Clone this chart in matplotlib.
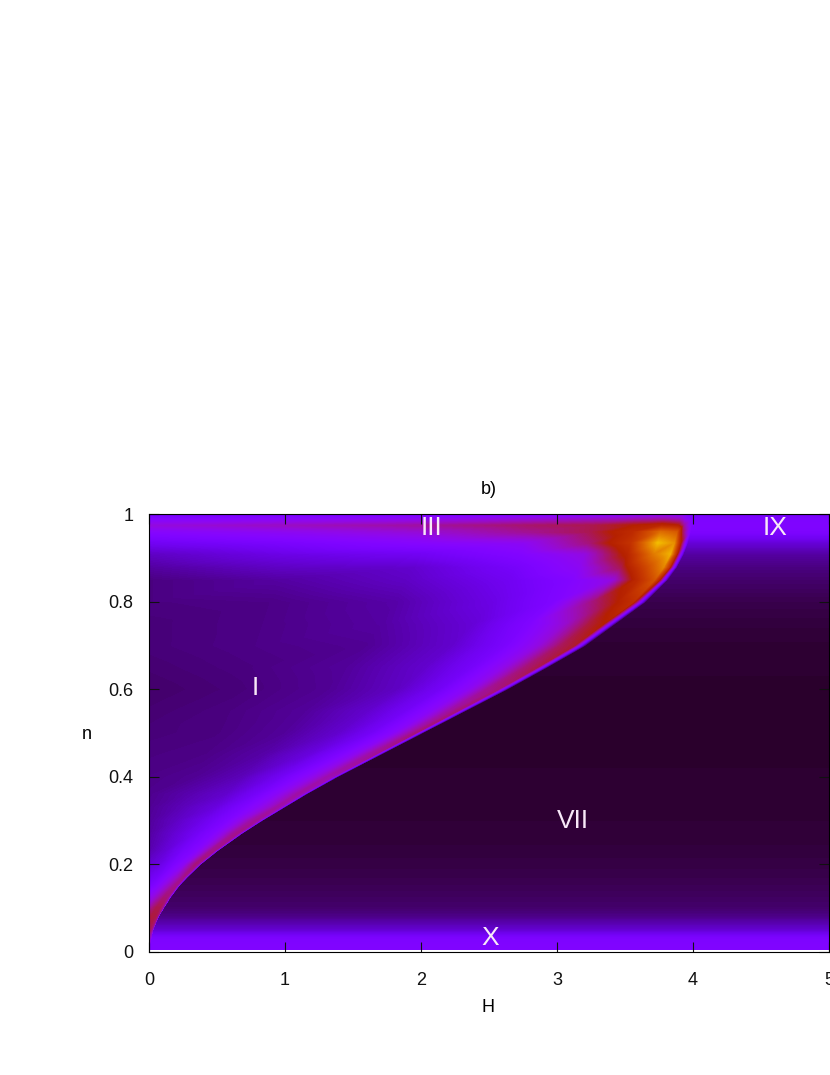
import numpy as np
import matplotlib
matplotlib.use("Agg")
import matplotlib.pyplot as plt
import matplotlib.tri as mtri

plt.rcParams['font.family'] = ['Liberation Sans', 'DejaVu Sans']

# values, row by row in n
n_rows = [0.004, 0.015, 0.03, 0.05, 0.08, 0.10, 0.125, 0.15, 0.17, 0.20, 0.23, 0.27, 0.30,
          0.33, 0.36, 0.40, 0.45, 0.50, 0.55, 0.60, 0.65, 0.70, 0.75, 0.80, 0.85, 0.88,
          0.91, 0.935, 0.96, 0.975, 0.99, 1.0]
# H where the dark region starts
edge_H = [0.002, 0.005, 0.015, 0.03, 0.07, 0.11, 0.16, 0.22, 0.28, 0.38, 0.50, 0.68, 0.83,
          0.99, 1.15, 1.38, 1.69, 2.00, 2.31, 2.62, 2.91, 3.19, 3.41, 3.63, 3.79, 3.86,
          3.91, 3.94, 3.96, 3.97, 3.98, 3.985]
# columns are fractions of edge_H
fractions = [0, 0.25, 0.5, 0.7, 0.82, 0.9, 0.95, 0.98, 0.99, 1.005]
left_vals = [
    [.25, .25, .25, .25, .25, .25, .25, .25, .25],
    [.28, .28, .28, .28, .28, .28, .27, .27, .26],
    [.34, .34, .33, .33, .32, .31, .29, .27, .24],
    [.44, .44, .42, .40, .37, .33, .28, .23, .18],
    [.46, .46, .46, .45, .43, .40, .32, .22, .12],
    [.38, .42, .45, .45, .42, .40, .32, .22, .11],
    [.30, .33, .38, .42, .42, .40, .33, .24, .12],
    [.22, .26, .32, .37, .40, .41, .35, .26, .15],
    [.19, .22, .28, .34, .38, .41, .37, .28, .16],
    [.15, .18, .24, .30, .38, .42, .40, .32, .20],
    [.12, .16, .22, .27, .34, .40, .41, .34, .23],
    [.11, .15, .20, .26, .33, .39, .41, .36, .25],
    [.105, .14, .19, .25, .32, .38, .40, .36, .25],
    [.10, .13, .17, .24, .30, .35, .39, .36, .26],
    [.095, .12, .15, .22, .29, .35, .39, .36, .26],
    [.09, .10, .13, .20, .27, .33, .38, .37, .26],
    [.085, .09, .115, .17, .24, .31, .38, .40, .27],
    [.08, .085, .105, .15, .21, .28, .37, .42, .28],
    [.075, .085, .105, .15, .21, .29, .38, .42, .28],
    [.07, .08, .10, .14, .21, .30, .40, .42, .28],
    [.075, .085, .105, .15, .22, .32, .42, .45, .30],
    [.08, .09, .10, .15, .23, .33, .44, .47, .30],
    [.08, .09, .11, .16, .25, .35, .46, .50, .33],
    [.085, .09, .115, .18, .25, .42, .50, .56, .38],
    [.085, .11, .14, .20, .26, .33, .55, .68, .50],
    [.11, .14, .15, .22, .30, .45, .66, .80, .60],
    [.14, .18, .20, .26, .33, .52, .78, .88, .60],
    [.20, .23, .27, .30, .42, .58, .90, .82, .55],
    [.27, .30, .34, .40, .45, .55, .75, .70, .45],
    [.33, .36, .39, .43, .45, .50, .53, .50, .40],
    [.26, .28, .30, .33, .35, .37, .38, .36, .30],
    [.20, .21, .22, .24, .26, .28, .29, .28, .26],
]
# the region right of the edge only changes with n
right_vals = [.25, .25, .24, .15, .09, .07, .062, .055, .05, .045, .04, .037, .035,
              .034, .033, .032, .03, .03, .03, .03, .032, .034, .04, .05, .07, .085,
              .11, .16, .24, .25, .24, .20]

H_ticks = [0, 1, 2, 3, 4, 5]
n_ticks = [0, 0.2, 0.4, 0.6, 0.8, 1]
n_tick_labels = ["0", "0.2", "0.4", "0.6", "0.8", "1"]
region_names = ["I", "III", "IX", "VII", "X"]
region_H = [0.78, 2.08, 4.6, 3.12, 2.51]
region_n = [0.602, 0.970, 0.970, 0.298, 0.030]

rows = np.array(n_rows)
cols = len(fractions) + 1
X = np.column_stack([np.outer(edge_H, fractions), np.full(len(rows), 5.0)])
Y = np.repeat(rows[:, None], cols, axis=1)
Z = np.column_stack([np.array(left_vals), right_vals, right_vals])

triangles = []
for i in range(len(rows) - 1):
    for j in range(cols - 1):
        a = i * cols + j
        b = a + 1
        c = a + cols
        d = c + 1
        triangles.append([a, b, d])
        triangles.append([a, d, c])
tri = mtri.Triangulation(X.ravel(), Y.ravel(), triangles)

fig = plt.figure(figsize=(8.3, 10.75), dpi=100)
ax = fig.add_axes([149 / 830, 1 - 951.5 / 1075, 680 / 830, 437 / 1075])
ax.tricontourf(tri, Z.ravel(), levels=np.linspace(0, 1, 257), cmap='gnuplot',
               vmin=0, vmax=1, antialiased=False)

ax.set_xlim(0, 5)
ax.set_ylim(0, 1)
ax.set_xticks(H_ticks)
ax.set_xticklabels([str(h) for h in H_ticks])
ax.set_yticks(n_ticks)
ax.set_yticklabels(n_tick_labels)
ax.tick_params(direction='in', top=True, right=True, length=7, width=0.8,
               labelsize=13, pad=11, colors='#111111')
ax.tick_params(axis='x', pad=15)

for name, h, nn in zip(region_names, region_H, region_n):
    ax.text(h, nn, name, color='#f8e8f8', fontsize=19, ha='center', va='center')

ax.set_title("b)", fontsize=13, pad=15)
ax.set_xlabel("H", fontsize=13)
ax.xaxis.set_label_coords(0.498, -0.108)
ax.set_ylabel("n", fontsize=13, rotation=0, va='center')
ax.yaxis.set_label_coords(-0.091, 0.496)

fig.savefig("out.png", dpi=100)
